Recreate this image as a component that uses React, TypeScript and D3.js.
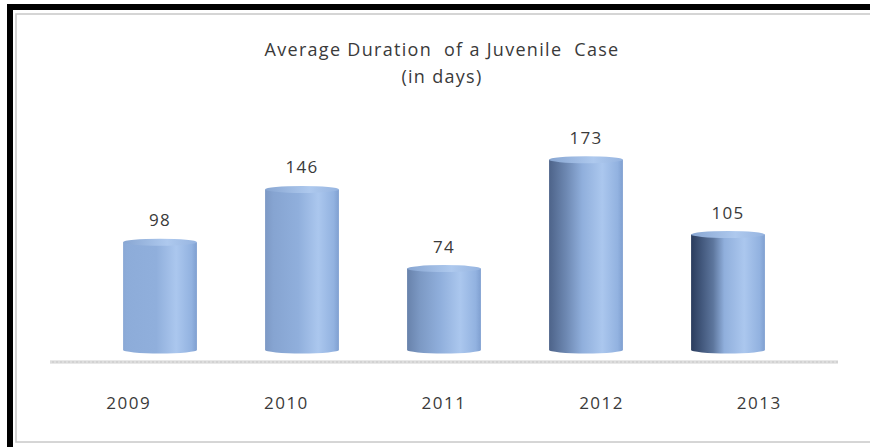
import React from "react";
import * as d3 from "d3";

const years = ["2009", "2010", "2011", "2012", "2013"];
const durations = [98, 146, 74, 173, 105];
const titleLines = ["Average Duration  of a Juvenile  Case", "(in days)"];

const W = 870;
const H = 447;

export default function App() {
  const x = d3.scaleBand<string>().domain(years).range([89, 799]).paddingInner(0.48).paddingOuter(0.24);
  const xAxis = d3.scaleBand<string>().domain(years).range([50, 838]);
  const y = d3.scaleLinear().domain([0, 100]).range([350, 240]);
  const bw = x.bandwidth();
  const ry = 3.5;
  const leftDark = d3.interpolateRgb("#8aa8d5", "#2a3c5e");
  const font = "'Open Sans', sans-serif";

  return (
    <svg width={W} height={H} style={{ position: "absolute", left: 0, top: 0, background: "#fff" }}>
      <defs>
        {years.map((yr, i) => {
          const t = i / (years.length - 1);
          const dark = leftDark(t * t * 0.6 + t * 0.4);
          const darkEnd = 0.05 + 0.25 * t;
          return (
            <linearGradient key={yr} id={`g${i}`} x1="0" x2="1" y1="0" y2="0">
              <stop offset="0" stopColor={dark} />
              <stop offset={darkEnd} stopColor={d3.interpolateRgb(dark, "#8fafdc")(0.5)} />
              <stop offset={0.45} stopColor="#90afdc" />
              <stop offset={0.72} stopColor="#abc7ee" />
              <stop offset={0.93} stopColor="#92b2e0" />
              <stop offset={1} stopColor="#7f9fd0" />
            </linearGradient>
          );
        })}
        <linearGradient id="topg" x1="0" x2="1" y1="0" y2="0">
          <stop offset="0" stopColor="#88a6d2" />
          <stop offset="0.6" stopColor="#aec9ee" />
          <stop offset="1" stopColor="#96b4e0" />
        </linearGradient>
      </defs>

      {/* frame */}
      <rect x={7} y={4} width={W} height={6} fill="#000" />
      <rect x={7} y={4} width={6} height={H} fill="#000" />
      <rect x={16} y={14} width={W} height={428} fill="none" stroke="#c8c8c8" strokeWidth={1.5} />

      {/* title */}
      {titleLines.map((t, i) => (
        <text key={i} x={442} y={56 + i * 27} textAnchor="middle" fontFamily={font} fontSize={18}
          fill="#3a3a3a" style={{ whiteSpace: "pre" }} letterSpacing={1.3}>
          {t}
        </text>
      ))}

      {/* baseline */}
      <line x1={50} x2={838} y1={362} y2={362} stroke="#d2d2d2" strokeWidth={3} />
      <line x1={50} x2={838} y1={362} y2={362} stroke="#e8e8e8" strokeWidth={1} strokeDasharray="2 2" />

      {/* bars */}
      {years.map((yr, i) => {
        const x0 = x(yr)!;
        const top = y(durations[i]);
        const base = y(0);
        const cx = x0 + bw / 2;
        const d = `M${x0},${top} L${x0},${base} A${bw / 2},${ry} 0 0 0 ${x0 + bw},${base} L${x0 + bw},${top} Z`;
        return (
          <g key={yr}>
            <path d={d} fill={`url(#g${i})`} />
            <ellipse cx={cx} cy={top} rx={bw / 2} ry={ry} fill="url(#topg)" />
            <text x={cx} y={top - 16} textAnchor="middle" fontFamily={font} fontSize={17}
              fill="#3a3a3a" letterSpacing={1.2}>
              {durations[i]}
            </text>
          </g>
        );
      })}

      {/* category labels */}
      {years.map((yr) => (
        <text key={yr} x={xAxis(yr)! + xAxis.bandwidth() / 2} y={409} textAnchor="middle" fontFamily={font}
          fontSize={17} fill="#3a3a3a" letterSpacing={1.5}>
          {yr}
        </text>
      ))}
    </svg>
  );
}
